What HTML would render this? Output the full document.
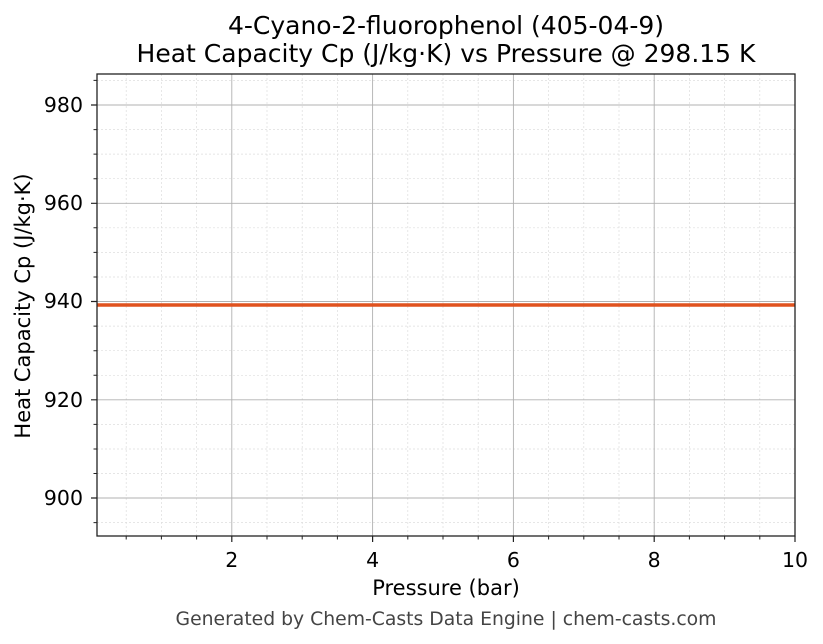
<!DOCTYPE html><html><head><meta charset="utf-8"><style>body{margin:0;background:#fff}svg{display:block;font-family:"DejaVu Sans","Liberation Sans",sans-serif}</style></head><body>
<svg width="823" height="644" viewBox="0 0 823 644" xmlns="http://www.w3.org/2000/svg">
<rect width="823" height="644" fill="#fff"/>
<g stroke="#ddd" stroke-width="0.7" stroke-dasharray="2,2">
<path d="M126.2 74V536M161.4 74V536M196.6 74V536M267 74V536M302.2 74V536M337.4 74V536M407.8 74V536M443 74V536M478.2 74V536M548.6 74V536M583.8 74V536M619 74V536M689.4 74V536M724.6 74V536M759.8 74V536"/>
<path d="M97 80.4H795M97 129.6H795M97 154.1H795M97 178.7H795M97 227.8H795M97 252.4H795M97 277H795M97 326.1H795M97 350.7H795M97 375.3H795M97 424.4H795M97 449H795M97 473.5H795M97 522.6H795"/>
</g>
<g stroke="#b0b0b0" stroke-width="0.9">
<path d="M231.8 74V536M372.6 74V536M513.4 74V536M654.2 74V536"/>
<path d="M97 105H795M97 203.3H795M97 301.5H795M97 399.8H795M97 498H795"/>
</g>
<line x1="97" y1="305" x2="795" y2="305" stroke="#e0521e" stroke-width="3.5"/>
<rect x="97" y="74" width="698" height="462" fill="none" stroke="#222" stroke-width="1.3"/>
<g stroke="#222" stroke-width="1.2">
<path d="M231.8 536v6M372.6 536v6M513.4 536v6M654.2 536v6M795 536v6"/>
<path d="M97 105h-6M97 203.3h-6M97 301.5h-6M97 399.8h-6M97 498h-6"/>
</g>
<g stroke="#222" stroke-width="1">
<path d="M126.2 536v3.5M161.4 536v3.5M196.6 536v3.5M267 536v3.5M302.2 536v3.5M337.4 536v3.5M407.8 536v3.5M443 536v3.5M478.2 536v3.5M548.6 536v3.5M583.8 536v3.5M619 536v3.5M689.4 536v3.5M724.6 536v3.5M759.8 536v3.5"/>
<path d="M97 80.4h-3.5M97 129.6h-3.5M97 154.1h-3.5M97 178.7h-3.5M97 227.8h-3.5M97 252.4h-3.5M97 277h-3.5M97 326.1h-3.5M97 350.7h-3.5M97 375.3h-3.5M97 424.4h-3.5M97 449h-3.5M97 473.5h-3.5M97 522.6h-3.5"/>
</g>
<g font-size="20.5" fill="#000" text-anchor="middle">
<text x="231.8" y="567">2</text><text x="372.6" y="567">4</text><text x="513.4" y="567">6</text><text x="654.2" y="567">8</text><text x="795" y="567">10</text>
</g>
<g font-size="20.5" fill="#000" text-anchor="end">
<text x="83" y="112">980</text><text x="83" y="210">960</text><text x="83" y="308">940</text><text x="83" y="407">920</text><text x="83" y="505">900</text>
</g>
<text x="446" y="595" font-size="21" text-anchor="middle">Pressure (bar)</text>
<text transform="translate(30,306) rotate(-90)" font-size="21" text-anchor="middle">Heat Capacity Cp (J/kg·K)</text>
<text x="446" y="34" font-size="25" text-anchor="middle">4-Cyano-2-fluorophenol (405-04-9)</text>
<text x="446" y="62" font-size="25" text-anchor="middle">Heat Capacity Cp (J/kg·K) vs Pressure @ 298.15 K</text>
<text x="446" y="625" font-size="18.8" fill="#444" text-anchor="middle">Generated by Chem-Casts Data Engine | chem-casts.com</text>
</svg></body></html>
